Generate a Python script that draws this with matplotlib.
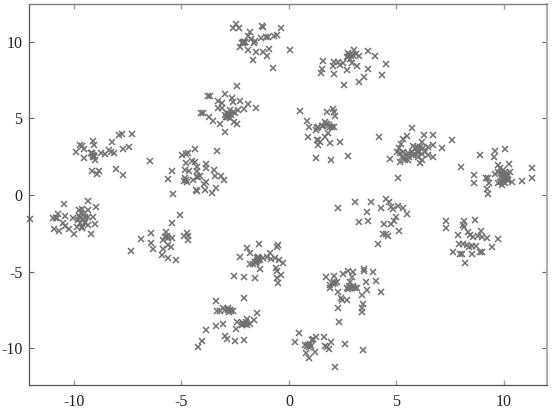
import matplotlib
matplotlib.use("Agg")
import matplotlib.pyplot as plt

plt.rcParams["font.family"] = ["Liberation Serif", "DejaVu Serif"]
plt.rcParams["axes.unicode_minus"] = False

# embedding coordinates
xs_a = [-9.92, -9.72, -9.63, -9.53, -9.52, -9.13, -9.07, -9.18, -9.10, -9.07, -9.02, -9.18, -8.91, -8.84, -8.74,
        -8.56, -8.36, -8.29, -8.12, -8.23, -7.89, -7.75, -7.30, -7.72, -7.46, -8.05, -7.72, -9.13, -9.19, -9.12, -9.05]
ys_a = [2.78, 3.24, 3.20, 3.02, 2.39, 3.50, 3.24, 2.76, 2.61, 2.46, 2.28, 1.57, 1.37, 1.59, 2.72,
        2.67, 2.93, 2.83, 2.72, 3.43, 3.89, 3.96, 3.98, 2.98, 3.11, 1.70, 1.30, 2.50, 2.72, 2.60, 2.55]

xs_b = [-6.45, -5.63, -5.43, -5.38, -4.96, -4.81, -4.71, -4.36, -3.35, -4.81, -4.50, -4.39, -4.26, -3.88, -3.86,
        -4.84, -4.65, -4.29, -4.84, -4.88, -4.76, -4.48, -4.25, -4.14, -3.86, -3.94, -4.34, -4.29, -3.91, -3.57,
        -3.40, -3.47, -3.44, -3.16, -3.02, -4.80, -4.30]
ys_b = [2.22, 1.02, 1.57, 0.07, 2.63, 2.70, 2.72, 3.02, 2.89, 2.07, 2.22, 2.17, 1.85, 2.00, 1.74,
        1.63, 1.59, 1.57, 1.09, 0.93, 0.87, 0.98, 1.20, 1.24, 0.87, 0.70, 0.33, 0.26, 0.33, 0.11,
        0.43, 1.63, 1.24, 1.24, 0.98, 1.00, 1.15]

xs_c = [-2.40, -3.78, -3.67, -2.96, -2.64, -3.32, -3.12, -2.59, -2.26, -1.92, -1.53, -2.09, -2.36, -3.29, -3.10,
        -2.74, -2.59, -2.87, -2.98, -2.82, -2.51, -4.11, -3.98, -3.72, -3.52, -3.21, -2.54, -2.43, -2.96, -2.93, -2.71,
        -2.90, -2.85, -2.78, -2.75]
ys_c = [7.13, 6.48, 6.48, 6.57, 6.30, 6.13, 5.98, 6.09, 6.13, 5.91, 5.70, 5.61, 5.54, 5.65, 5.65,
        5.54, 5.43, 5.33, 5.22, 5.07, 5.33, 5.33, 5.37, 5.07, 4.85, 4.61, 4.74, 4.63, 4.13, 5.11, 5.22,
        5.10, 5.25, 5.30, 5.00]

xs_d = [-2.59, -2.48, -2.31, -1.27, -1.19, -0.39, -1.81, -1.91, -0.57, -0.70, -0.96, -1.09, -1.32, -1.57, -1.78,
        -2.03, -2.12, -2.20, -2.28, -1.92, -1.61, -1.55, -1.22, -0.95, -1.04, -1.69, -0.73, 0.05, -2.09, -2.05, -2.15]
ys_d = [10.87, 11.13, 10.87, 11.02, 10.98, 10.87, 10.61, 10.39, 10.43, 10.39, 10.28, 10.28, 10.22, 10.07, 10.15,
        10.00, 9.93, 9.89, 9.63, 9.46, 9.89, 9.35, 9.35, 9.50, 9.09, 8.78, 8.30, 9.46, 9.96, 10.00, 9.95]

xs_e = [1.58, 1.52, 1.47, 2.09, 2.06, 2.09, 2.26, 2.37, 2.53, 2.68, 2.54, 2.76, 2.76, 2.84, 3.02,
        2.99, 3.10, 3.26, 2.91, 3.15, 3.27, 3.49, 3.69, 3.69, 4.00, 4.34, 4.50, 2.80, 2.90, 2.72]
ys_e = [8.72, 8.22, 7.93, 8.70, 8.43, 7.91, 8.70, 8.48, 8.59, 8.15, 7.20, 9.24, 8.98, 8.85, 9.46,
        9.13, 9.20, 9.09, 8.63, 8.41, 7.39, 7.67, 8.20, 9.39, 9.09, 7.80, 8.54, 9.10, 9.05, 9.00]

xs_f = [0.51, 0.82, 0.93, 0.87, 1.24, 1.36, 1.29, 1.55, 1.67, 1.75, 1.86, 1.78, 2.03, 2.09, 2.14,
        1.98, 2.11, 1.67, 1.80, 1.36, 1.29, 1.44, 1.36, 1.91, 2.36, 1.27, 1.97, 2.74, 4.20, 1.70, 1.60, 1.90]
ys_f = [5.50, 4.85, 4.46, 3.80, 4.24, 4.46, 4.35, 4.50, 4.78, 4.63, 4.57, 5.39, 5.59, 5.39, 5.15,
        4.46, 4.41, 3.80, 4.02, 3.59, 3.59, 3.48, 3.26, 3.37, 3.43, 2.41, 2.28, 2.54, 3.78, 4.65, 4.50, 4.45]

xs_g = [5.71, 5.47, 5.29, 5.19, 5.13, 5.01, 4.70, 5.16, 5.24, 5.16, 5.47, 5.55, 5.78, 5.86, 6.17,
        6.29, 6.71, 6.68, 6.48, 6.25, 6.09, 5.94, 5.78, 6.02, 6.17, 6.09, 6.48, 6.71, 7.10, 7.57,
        7.98, 5.07, 5.40, 5.55, 5.71, 6.33, 5.32, 5.94, 5.60, 5.90, 6.00, 5.35, 6.20]
ys_g = [4.37, 3.85, 3.63, 3.33, 3.04, 2.78, 2.37, 2.72, 2.50, 2.17, 2.61, 2.72, 3.22, 3.04, 3.48,
        3.91, 3.89, 3.26, 3.15, 3.04, 3.15, 2.83, 2.61, 2.50, 2.28, 2.07, 2.61, 2.50, 3.07, 3.57,
        1.85, 1.09, 2.28, 2.28, 2.83, 2.83, 2.83, 3.15, 2.45, 2.60, 2.90, 2.40, 2.65]

xs_h = [8.87, 9.58, 9.52, 10.03, 8.62, 8.62, 9.15, 9.30, 9.19, 9.27, 9.74, 9.81, 10.25, 9.58, 9.74,
        9.89, 10.03, 10.28, 10.12, 9.97, 9.81, 9.89, 10.03, 9.74, 10.36, 10.85, 11.29, 11.32, 9.27, 10.20, 9.97,
        9.90, 10.00, 10.10, 10.15, 9.95, 10.05, 9.85, 10.20]
ys_h = [2.61, 2.89, 2.46, 3.00, 1.33, 0.80, 1.13, 0.80, 0.41, 0.07, 1.96, 1.74, 2.02, 1.37, 1.52,
        1.41, 1.52, 1.52, 1.20, 1.09, 0.87, 0.65, 0.76, 0.76, 0.87, 0.91, 1.09, 1.76, 1.09, 0.98, 1.63,
        1.30, 1.00, 1.35, 0.95, 0.85, 1.25, 1.15, 1.30]

xs_i = [-12.05, -10.99, -10.84, -10.73, -10.78, -10.42, -10.47, -9.36, -8.99, -9.02, -9.22, -10.03, -9.75, -9.64, -9.33,
        -9.10, -9.33, -9.49, -9.80, -9.72, -9.64, -9.84, -9.49, -9.33, -10.50, -10.42, -10.22, -9.98, -10.93, -10.70,
        -9.64, -9.75, -9.70, -9.60, -9.55, -9.50, -9.68]
ys_i = [-1.57, -1.48, -1.52, -1.24, -1.48, -1.35, -0.59, -0.39, -0.80, -1.91, -2.57, -1.52, -0.98, -0.93, -0.98,
        -1.41, -1.41, -1.41, -1.63, -1.85, -2.07, -2.07, -1.74, -1.96, -1.85, -2.00, -2.24, -2.54, -2.24, -2.35,
        -2.17, -1.35, -1.50, -1.60, -1.25, -1.85, -1.20]

xs_j = [-7.35, -6.87, -6.43, -6.42, -6.33, -5.88, -5.74, -5.69, -5.61, -5.46, -5.61, -5.49, -5.88, -5.92, -5.61,
        -5.27, -5.44, -5.07, -4.88, -4.76, -4.71, -4.71, -5.77]
ys_j = [-3.63, -2.89, -2.50, -3.13, -3.54, -2.93, -2.43, -2.65, -2.83, -2.83, -3.26, -3.41, -3.52, -3.91, -4.13,
        -4.22, -1.83, -1.33, -2.65, -2.50, -2.65, -2.93, -2.72]

xs_k = [-1.95, -1.40, -1.83, -2.26, -1.81, -1.66, -1.53, -1.47, -1.43, -1.35, -1.35, -1.58, -2.08, -2.54, -1.19,
        -1.04, -0.88, -0.85, -0.65, -0.47, -0.29, -0.50, -0.54, -0.60, -0.57, -0.39, -0.54, -0.53, -1.58, -1.43,
        -1.50, -1.45, -1.38, -1.52]
ys_k = [-3.43, -3.22, -3.80, -4.02, -4.50, -4.50, -4.46, -4.13, -4.02, -4.24, -4.83, -5.43, -5.37, -5.30, -4.13,
        -4.02, -3.80, -4.17, -4.13, -4.24, -4.41, -3.26, -3.41, -4.78, -4.96, -5.22, -5.43, -5.72, -4.35, -4.24,
        -4.28, -4.18, -4.10, -4.35]

xs_l = [-3.41, -3.36, -3.21, -3.05, -2.98, -2.82, -2.78, -2.59, -2.85, -2.08, -1.47, -1.61, -1.97, -2.00, -2.43,
        -2.12, -1.97, -1.81, -2.47, -3.05, -3.40, -3.86, -4.03, -4.25, -2.99, -2.87, -2.53, -2.09,
        -2.75, -2.70, -2.15, -2.05, -2.20]
ys_l = [-6.91, -7.54, -7.54, -7.39, -7.50, -7.39, -7.61, -7.57, -7.50, -6.72, -7.67, -8.15, -8.09, -8.30, -8.26,
        -8.43, -8.48, -8.43, -8.74, -8.43, -8.54, -8.80, -9.50, -9.89, -9.20, -9.41, -9.52, -9.48,
        -7.48, -7.55, -8.35, -8.40, -8.50]

xs_m = [1.72, 2.08, 2.50, 2.76, 2.99, 2.91, 3.49, 3.49, 3.91, 3.60, 4.06, 4.26, 3.63, 3.41, 1.91,
        1.98, 2.14, 2.22, 1.91, 2.26, 2.42, 2.45, 2.68, 2.84, 2.68, 2.84, 2.99, 3.15, 2.29, 3.46,
        3.38, 3.38, 2.31, 2.76, 3.07, 2.05, 2.10, 2.80, 3.00, 2.90]
ys_m = [-5.37, -5.28, -5.17, -4.96, -5.04, -5.33, -4.85, -4.93, -5.04, -5.65, -5.63, -6.33, -6.22, -6.50, -6.09,
        -5.76, -5.76, -5.70, -5.87, -6.35, -6.74, -6.85, -6.87, -5.70, -6.09, -6.04, -5.91, -6.09, -7.35, -7.13,
        -7.35, -7.61, -8.30, -6.13, -6.04, -5.80, -5.70, -5.95, -6.00, -6.10]

xs_n = [2.28, 3.05, 3.80, 3.61, 4.29, 3.27, 3.66, 4.53, 4.65, 4.74, 4.85, 5.09, 5.29, 5.50, 4.98,
        4.90, 4.74, 4.42, 5.13, 4.39, 4.51, 4.62, 4.16]
ys_n = [-0.83, -0.46, -0.48, -1.09, -0.83, -1.74, -1.70, -0.26, -0.48, -0.76, -0.91, -0.70, -0.83, -1.22, -1.46,
        -1.70, -1.91, -1.87, -2.35, -2.57, -2.57, -2.65, -3.22]

xs_o = [7.30, 7.30, 8.14, 8.65, 8.08, 8.14, 8.34, 8.42, 7.86, 8.54, 8.81, 8.93, 8.99, 9.19, 9.74,
        9.46, 7.92, 8.08, 8.26, 8.37, 8.50, 8.68, 7.64, 7.95, 8.03, 8.53, 8.88, 8.96, 8.20]
ys_o = [-1.67, -2.17, -1.67, -1.61, -1.96, -2.11, -2.43, -2.61, -2.61, -2.72, -2.65, -2.33, -2.76, -2.83, -2.87,
        -3.37, -3.22, -3.22, -3.26, -3.37, -3.33, -3.33, -3.74, -3.87, -3.85, -3.87, -3.70, -3.70, -4.43]

xs_p = [0.28, 0.47, 1.24, 1.13, 1.64, 1.94, 1.67, 1.75, 1.86, 0.74, 0.90, 1.02, 0.78, 0.93, 1.21,
        1.05, 2.60, 3.46, 2.14, 0.85, 1.00, 0.95]
ys_p = [-9.61, -9.02, -9.24, -9.39, -9.30, -9.59, -9.83, -9.89, -10.04, -9.78, -9.78, -9.83, -10.33, -10.61, -10.22,
        -9.46, -9.70, -10.09, -11.20, -9.85, -9.70, -9.90]

clusters = [
    (xs_a, ys_a), (xs_b, ys_b), (xs_c, ys_c), (xs_d, ys_d),
    (xs_e, ys_e), (xs_f, ys_f), (xs_g, ys_g), (xs_h, ys_h),
    (xs_i, ys_i), (xs_j, ys_j), (xs_k, ys_k), (xs_l, ys_l),
    (xs_m, ys_m), (xs_n, ys_n), (xs_o, ys_o), (xs_p, ys_p),
]

x_ticks = [-10, -5, 0, 5, 10]
y_ticks = [-10, -5, 0, 5, 10]

fig = plt.figure(figsize=(5.53, 4.15), dpi=100)
ax = fig.add_axes([29.3 / 553, 1 - 385.3 / 415, (546.7 - 29.3) / 553, (385.3 - 3.7) / 415])

for xs, ys in clusters:
    ax.plot(xs, ys, linestyle="none", marker="x", color="#707070", markersize=4.4, markeredgewidth=1.1, clip_on=False)

ax.set_xlim(-12.08, 11.99)
ax.set_ylim(-12.42, 12.48)
ax.set_xticks(x_ticks)
ax.set_yticks(y_ticks)
ax.tick_params(axis="x", direction="in", top=True, length=3.6, width=1.0, color="#a0a0a0",
               labelsize=11.5, labelcolor="#222222", pad=6)
ax.tick_params(axis="y", direction="in", right=True, length=3.6, width=0.8, color="#666666",
               labelsize=11.5, labelcolor="#222222", pad=5)
for tick in ax.yaxis.get_major_ticks():
    tick.tick2line.set_color("#999999")

# the frame is not even in the original: dark left and bottom, paler top and right
ax.spines["left"].set(color="#555555", linewidth=0.9)
ax.spines["bottom"].set(color="#555555", linewidth=0.9)
ax.spines["top"].set(color="#808080", linewidth=1.0)
ax.spines["right"].set(color="#b0b0b0", linewidth=1.5)

fig.savefig("out.png", dpi=100)
